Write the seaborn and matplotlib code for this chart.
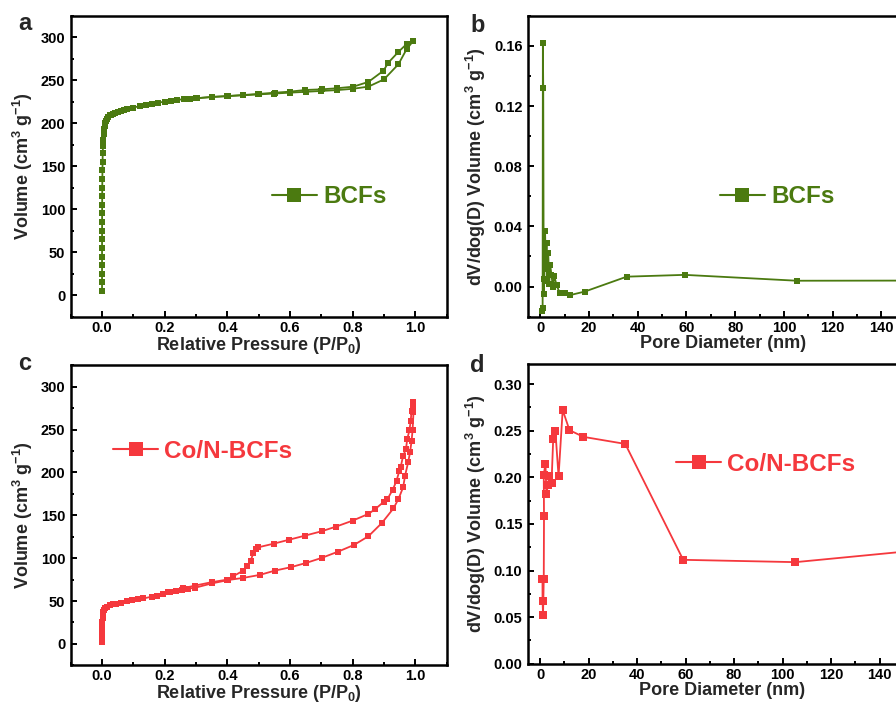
import numpy as np
import pandas as pd
import matplotlib
matplotlib.use("Agg")
import matplotlib.pyplot as plt
from matplotlib.ticker import MultipleLocator
import seaborn as sns

# ---------------- data ----------------
# (a) BCFs N2 isotherm
a_ads_p = [0, 0.00001, 0.00002, 0.00003, 0.00005, 0.00007, 0.0001, 0.00015, 0.0002, 0.0003,
           0.0004, 0.0005, 0.0007, 0.001, 0.0013, 0.0017, 0.0022, 0.003, 0.004, 0.0055, 0.007,
           0.0085, 0.01, 0.013, 0.016, 0.02, 0.025, 0.03, 0.035, 0.04, 0.05, 0.06, 0.07, 0.08,
           0.1, 0.12, 0.14, 0.16, 0.18, 0.2, 0.22, 0.24, 0.26, 0.28, 0.3,
           0.35, 0.4, 0.45, 0.5, 0.55, 0.6, 0.65, 0.7, 0.75, 0.8, 0.85, 0.9, 0.946, 0.972, 0.994]
a_ads_v = [5, 15, 25, 35, 45, 55, 65, 75, 85, 95,
           105, 115, 125, 135, 145, 155, 165, 173, 181, 188, 193,
           197, 200, 203, 205, 207, 209, 210, 211, 212, 213, 214, 215, 216,
           218, 220, 221, 222, 224, 225, 226, 227, 228, 228.5, 229,
           230.5, 231.5, 232.5, 233.5, 234.5, 235.5, 236.5, 237.5, 238.5, 240, 242.5, 251, 268.6, 286, 296]
a_des_p = [0.994, 0.972, 0.946, 0.914, 0.898, 0.85, 0.802, 0.749, 0.701, 0.648, 0.6, 0.552,
           0.499, 0.451, 0.403, 0.35, 0.302]
a_des_v = [296, 292, 283, 270.5, 261, 248, 242.5, 240.6, 239.4, 238.6, 236.7, 235.5,
           234, 232.8, 231.6, 230.5, 229]

# (b) BCFs pore size distribution
b_d = [0.9, 1.0, 1.1, 1.25, 1.45, 1.7, 2.0, 2.3, 2.6, 2.9, 3.3, 3.7, 4.1, 4.6, 5.2, 5.8,
       6.7, 8.1, 10.1, 12.4, 18.3, 35.5, 59.3, 105.3, 155]
b_v = [-0.016, -0.014, 0.162, 0.132, -0.005, 0.005, 0.037, 0.012, 0.029, 0.004, 0.022, 0.002,
       0.0145, 0.008, 0.0, 0.007, 0.001, -0.0045, -0.004, -0.0056, -0.0033, 0.0066, 0.0078,
       0.0039, 0.004]

# (c) Co/N-BCFs N2 isotherm
c_ads_p = [0, 0.0001, 0.0002, 0.0004, 0.0006, 0.0009, 0.0013, 0.0018, 0.0025, 0.0035, 0.005,
           0.008, 0.015, 0.025, 0.035, 0.045, 0.06, 0.079, 0.095, 0.115, 0.132, 0.158, 0.174,
           0.195, 0.212, 0.235, 0.254, 0.275, 0.297, 0.35, 0.403, 0.451, 0.504, 0.552, 0.602,
           0.651, 0.701, 0.754, 0.804, 0.85, 0.893, 0.93, 0.946, 0.961, 0.967, 0.977, 0.983,
           0.988, 0.991, 0.994]
c_ads_v = [2, 6, 10, 14, 18, 22, 26, 30, 34, 37, 40,
           42, 43.5, 45, 46, 47, 48, 49.5, 51, 52, 53, 55, 56,
           58, 60, 61.5, 63, 64.5, 65.5, 70.5, 74.5, 77, 80.5, 85.5, 89.4,
           94.4, 100.3, 107.7, 115.4, 125.5, 141, 158, 169, 182.7, 196, 212, 223.5,
           237, 249, 270]
c_des_p = [0.994, 0.993, 0.988, 0.985, 0.981, 0.974, 0.970, 0.961, 0.953, 0.949, 0.940, 0.928,
           0.911, 0.900, 0.871, 0.850, 0.800, 0.747, 0.701, 0.648, 0.598, 0.549, 0.499,
           0.491, 0.483, 0.474, 0.464, 0.451, 0.419, 0.400, 0.350, 0.297, 0.259, 0.217]
c_des_v = [282, 277, 272, 260, 249, 239, 227, 219.6, 206, 202, 190.4, 180,
           169, 166, 157, 151.6, 143.8, 136.8, 131.4, 126.3, 121.6, 117, 112.7,
           110.8, 105.7, 97, 91.3, 85.5, 79, 75, 72, 68, 65, 61]

# (d) Co/N-BCFs pore size distribution
d_d = [0.97, 1.0, 1.2, 1.5, 1.6, 1.5, 2.2, 2.6, 3.2, 3.8, 4.7, 5.4, 6.3, 7.6, 9.3, 12.1,
       17.8, 35.1, 59.0, 105.3, 155]
d_v = [0.091, 0.0675, 0.0524, 0.091, 0.158, 0.203, 0.2147, 0.182, 0.192, 0.202, 0.1937,
       0.2417, 0.2496, 0.201, 0.2723, 0.2507, 0.2435, 0.2359, 0.1115, 0.109, 0.1215]

GREEN = "#4b7a10"
RED = "#f5383d"

# ---------------- style ----------------
sns.set_theme(style="ticks")
plt.rcParams["font.family"] = ["Liberation Sans", "DejaVu Sans"]
plt.rcParams["font.weight"] = "bold"
plt.rcParams["mathtext.fontset"] = "custom"
plt.rcParams["mathtext.rm"] = "Liberation Sans:bold"
plt.rcParams["mathtext.bf"] = "Liberation Sans:bold"
plt.rcParams["mathtext.it"] = "Liberation Sans:bold"

fig = plt.figure(figsize=(8.96, 7.04), dpi=100)
W, H = 896, 704


def axes_px(left, top, right, bottom):
    return fig.add_axes([left / W, 1 - bottom / H, (right - left) / W, (bottom - top) / H])


ax_a = axes_px(70.7, 15.7, 446.7, 316.7)
ax_b = axes_px(528, 15.7, 918, 316.7)
ax_c = axes_px(70.7, 365.3, 446.7, 665.3)
ax_d = axes_px(528, 363.7, 916, 663.7)


def line(ax, x, y, color, label=None, ms=4.8):
    df = pd.DataFrame({"x": x, "y": y})
    sns.lineplot(data=df, x="x", y="y", ax=ax, sort=False, estimator=None, color=color,
                 marker="s", markersize=ms, markeredgewidth=0, linewidth=1.3, label=label,
                 legend=False)


line(ax_a, a_ads_p, a_ads_v, GREEN, "BCFs")
line(ax_a, a_des_p, a_des_v, GREEN)
line(ax_b, b_d, b_v, GREEN, "BCFs", ms=4.4)
line(ax_c, c_ads_p, c_ads_v, RED, "Co/N-BCFs")
line(ax_c, c_des_p, c_des_v, RED)
line(ax_d, d_d, d_v, RED, "Co/N-BCFs", ms=5.2)


def style(ax, xlim, ylim, xmaj, xmin, ymaj, ymin, xlabel, ylabel, fmt_x, fmt_y):
    ax.set_xlim(*xlim)
    ax.set_ylim(*ylim)
    ax.xaxis.set_major_locator(MultipleLocator(xmaj))
    ax.xaxis.set_minor_locator(MultipleLocator(xmin))
    ax.yaxis.set_major_locator(MultipleLocator(ymaj))
    ax.yaxis.set_minor_locator(MultipleLocator(ymin))
    ax.xaxis.set_major_formatter(plt.FormatStrFormatter(fmt_x))
    ax.yaxis.set_major_formatter(plt.FormatStrFormatter(fmt_y))
    for s in ["top", "right", "left", "bottom"]:
        ax.spines[s].set_visible(True)
        ax.spines[s].set_linewidth(1.8)
        ax.spines[s].set_color("black")
    ax.tick_params(which="both", direction="in", top=False, right=False, width=1.4,
                   labelsize=10.5, pad=4, colors="black")
    ax.tick_params(axis="x", which="both", pad=3)
    ax.tick_params(which="major", length=4)
    ax.tick_params(which="minor", length=2.5)
    for lab in ax.get_xticklabels() + ax.get_yticklabels():
        lab.set_fontweight("bold")
    ax.set_xlabel(xlabel, fontsize=13, fontweight="bold", labelpad=0)
    ax.set_ylabel(ylabel, fontsize=13, fontweight="bold", labelpad=4)
    ax.set_facecolor("white")


vol_label = r"Volume (cm$^{3}$ g$^{-1}$)"
psd_label = r"dV/dog(D) Volume (cm$^{3}$ g$^{-1}$)"
p_label = r"Relative Pressure (P/P$_{0}$)"
d_label = "Pore Diameter (nm)"

style(ax_a, (-0.1, 1.1), (-25, 325), 0.2, 0.1, 50, 25, p_label, vol_label, "%.1f", "%d")
style(ax_c, (-0.1, 1.1), (-25, 325), 0.2, 0.1, 50, 25, p_label, vol_label, "%.1f", "%d")
style(ax_b, (-5, 155), (-0.02, 0.18), 20, 10, 0.04, 0.02, d_label, psd_label, "%d", "%.2f")
style(ax_d, (-5, 155), (0, 0.322), 20, 10, 0.05, 0.025, d_label, psd_label, "%d", "%.2f")


def legend(ax, x, y, color, size):
    leg = ax.legend(loc="center left", bbox_to_anchor=(x, y), frameon=False, borderpad=0,
                    borderaxespad=0, handlelength=1.85, handletextpad=0.25,
                    prop={"family": "Liberation Sans", "weight": "bold", "size": size})
    for t in leg.get_texts():
        t.set_color(color)
    for h in leg.legend_handles:
        h.set_markersize(9.5)
        h.set_linewidth(1.5)


legend(ax_a, 0.535, 0.398, GREEN, 17.5)
legend(ax_b, 0.492, 0.398, GREEN, 17.5)
legend(ax_c, 0.113, 0.714, RED, 17.5)
legend(ax_d, 0.382, 0.665, RED, 17.5)

for lbl, (px, py) in zip(["a", "b", "c", "d"],
                         [(18, 29.5), (470, 31.5), (18, 370), (470, 372)]):
    fig.text(px / W, 1 - py / H, lbl, fontsize=17, fontweight="bold", ha="left", va="baseline")

fig.savefig("out.png", dpi=100, facecolor="white")
